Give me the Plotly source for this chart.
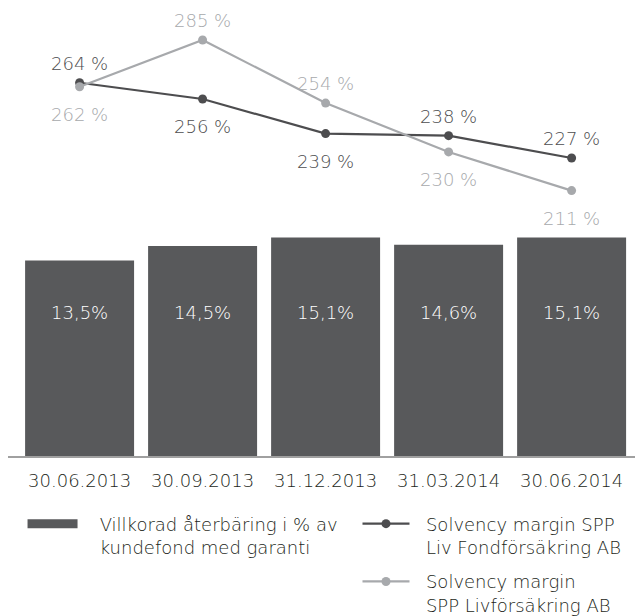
import plotly.graph_objects as go

dates = ["30.06.2013", "30.09.2013", "31.12.2013", "31.03.2014", "30.06.2014"]
bar_values = [13.5, 14.5, 15.1, 14.6, 15.1]
bar_labels = ["13,5%", "14,5%", "15,1%", "14,6%", "15,1%"]
fond_values = [264, 256, 239, 238, 227]
liv_values = [262, 285, 254, 230, 211]
fond_label_side = ["above", "below", "below", "above", "above"]
liv_label_side = ["below", "above", "above", "below", "below"]

BAR_COLOR = "#58595b"
DARK = "#4d4d4f"
LIGHT = "#a7a9ac"
FONT = "DejaVu Sans"
TEXT = "#231f20"
NB = "\u00a0"
W = 300  # light weight text

fig = go.Figure()

fig.add_trace(go.Bar(
    x=dates, y=bar_values, marker=dict(color=BAR_COLOR, line=dict(width=0)),
    showlegend=False, hoverinfo="skip",
))
# legend swatch for bars (no data)
fig.add_trace(go.Scatter(
    x=[None], y=[None], mode="lines", line=dict(color=BAR_COLOR, width=9),
    name=NB * 3 + "Villkorad återbäring i % av<br>" + NB * 3 + "kundefond med garanti",
    legend="legend",
))
fig.add_trace(go.Scatter(
    x=dates, y=fond_values, yaxis="y2", mode="lines+markers",
    line=dict(color=DARK, width=2.2), marker=dict(size=9, color=DARK),
    name=NB * 2 + "Solvency margin SPP<br>" + NB * 2 + "Liv Fondförsäkring AB",
    legend="legend2", legendgroup="a",
))
fig.add_trace(go.Scatter(
    x=dates, y=liv_values, yaxis="y2", mode="lines+markers",
    line=dict(color=LIGHT, width=2.2), marker=dict(size=9, color=LIGHT),
    name=NB * 2 + "Solvency margin<br>" + NB * 2 + "SPP Livförsäkring AB",
    legend="legend2", legendgroup="b",
))

annotations = []
for d, lab in zip(dates, bar_labels):
    annotations.append(dict(x=d, y=0.32, xref="x", yref="paper", yanchor="middle",
                            text=lab, showarrow=False,
                            font=dict(family=FONT, size=18, color="white", weight=W)))
for vals, sides, col in ((fond_values, fond_label_side, DARK), (liv_values, liv_label_side, LIGHT)):
    for d, v, side in zip(dates, vals, sides):
        annotations.append(dict(x=d, y=v, xref="x", yref="y2", yanchor="middle",
                                text=f"{v} %", showarrow=False,
                                yshift=19.5 if side == "above" else -27.7,
                                font=dict(family=FONT, size=18, color=col, weight=W)))

fig.update_layout(
    width=635, height=616,
    margin=dict(l=0, r=3, t=0, b=152),
    paper_bgcolor="white", plot_bgcolor="white",
    font=dict(family=FONT, size=18, color=TEXT, weight=W),
    bargap=0.114,
    xaxis=dict(type="category", range=[-0.582, 4.556], showline=True, linecolor="#a0a0a0",
               linewidth=1.5, showgrid=False, zeroline=False, ticks="",
               ticklabelstandoff=8,
               tickfont=dict(family=FONT, size=18, color=TEXT, weight=W)),
    yaxis=dict(range=[0, 30.95], visible=False, showgrid=False, zeroline=False),
    yaxis2=dict(range=[80.61, 300.71], overlaying="y", visible=False, showgrid=False, zeroline=False),
    legend=dict(x=0.023, y=-0.1104, xanchor="left", yanchor="top", itemwidth=50,
                valign="top",
                font=dict(family=FONT, size=18, color=TEXT, weight=W), bgcolor="rgba(0,0,0,0)"),
    legend2=dict(x=0.553, y=-0.1104, xanchor="left", yanchor="top", itemwidth=47,
                 tracegroupgap=8, valign="top",
                 font=dict(family=FONT, size=18, color=TEXT, weight=W), bgcolor="rgba(0,0,0,0)"),
    annotations=annotations,
)

fig.write_html("out.html")
